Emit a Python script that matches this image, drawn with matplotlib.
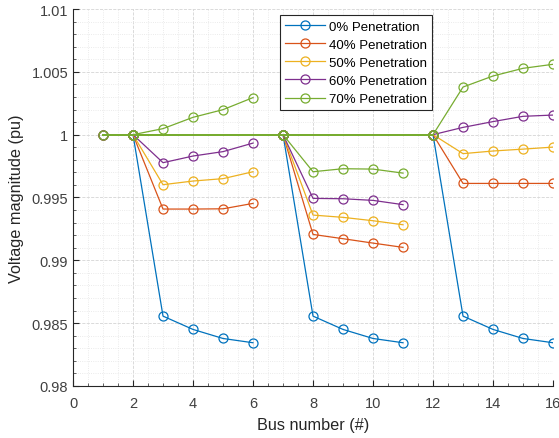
import numpy as np
import matplotlib.pyplot as plt
from matplotlib.ticker import MultipleLocator, FormatStrFormatter

plt.rcParams['font.family'] = ['Liberation Sans', 'DejaVu Sans']

# feeder branches (bus numbers), each drawn as its own polyline
branches = [[1, 2], [2, 3, 4, 5, 6], [2, 7], [7, 8, 9, 10, 11], [7, 12], [12, 13, 14, 15, 16]]

labels = ["0% Penetration", "40% Penetration", "50% Penetration",
          "60% Penetration", "70% Penetration"]
colors = ["#0072BD", "#D95319", "#EDB120", "#7E2F8E", "#77AC30"]

# voltage at bus 1..16 for each penetration level
v0 = [1.0, 1.0, 0.98556, 0.98450, 0.98378, 0.98344, 1.0,
      0.98556, 0.98450, 0.98378, 0.98344, 1.0,
      0.98556, 0.98450, 0.98378, 0.98344]
v40 = [1.0, 1.0, 0.99408, 0.99408, 0.99410, 0.99453, 1.0,
       0.99206, 0.99172, 0.99137, 0.99103, 1.0,
       0.99612, 0.99612, 0.99612, 0.99612]
v50 = [1.0, 1.0, 0.99602, 0.99631, 0.99650, 0.99705, 1.0,
       0.99360, 0.99342, 0.99315, 0.99283, 1.0,
       0.99849, 0.99870, 0.99885, 0.99901]
v60 = [1.0, 1.0, 0.99777, 0.99830, 0.99865, 0.99933, 1.0,
       0.99493, 0.99490, 0.99477, 0.99443, 1.0,
       1.00058, 1.00104, 1.00146, 1.00156]
v70 = [1.0, 1.0, 1.00048, 1.00138, 1.00199, 1.00295, 1.0,
       0.99705, 0.99729, 0.99726, 0.99694, 1.0,
       1.00379, 1.00467, 1.00528, 1.00560]
series = [v0, v40, v50, v60, v70]

fig = plt.figure(figsize=(5.59, 4.39), dpi=100)
ax = fig.add_axes([0.1306, 0.1185, 0.8587, 0.8587])

for n, (vals, lab, col) in enumerate(zip(series, labels, colors)):
    v = np.array(vals)
    for k, br in enumerate(branches):
        idx = np.array(br) - 1
        # flat links (1-2, 2-7, 7-12) overlap exactly: no antialiasing so the last colour wins
        flat = len(br) == 2
        ax.plot(br, v[idx], "-", color=col, lw=1.2 if flat else 0.9,
                antialiased=not flat, zorder=3 + n)
        ax.plot(br, v[idx], "o", color=col, mfc="none", ms=6.5, mew=0.9,
                zorder=3 + n)
    ax.plot([], [], "-o", color=col, mfc="none", ms=6.5, lw=0.9, mew=0.9, label=lab)

ax.set_xlim(0, 16)
ax.set_ylim(0.98, 1.01)
ax.xaxis.set_major_locator(MultipleLocator(2))
ax.xaxis.set_minor_locator(MultipleLocator(0.5))
ax.yaxis.set_major_locator(MultipleLocator(0.005))
ax.yaxis.set_minor_locator(MultipleLocator(0.001))
ax.yaxis.set_major_formatter(FormatStrFormatter("%g"))

ax.grid(which="major", color="#d4d4d4", linestyle="--", linewidth=0.6)
ax.grid(which="minor", color="#e4e4e4", linestyle=":", linewidth=0.6)
ax.set_axisbelow(True)

for s in ["top", "right"]:
    ax.spines[s].set_visible(False)
for s in ["left", "bottom"]:
    ax.spines[s].set_color("#262626")
    ax.spines[s].set_linewidth(0.8)
ax.tick_params(which="both", direction="in", colors="#262626", labelcolor="#404040",
               labelsize=10.5)
ax.tick_params(axis="x", which="major", pad=7)
ax.tick_params(which="minor", length=2, width=0.5)
ax.tick_params(which="major", length=4)

ax.set_xlabel("Bus number (#)", fontsize=11.7, color="#262626", labelpad=5)
ax.set_ylabel("Voltage magnitude (pu)", fontsize=11.7, color="#262626", labelpad=5)

leg = ax.legend(loc="upper left", bbox_to_anchor=(0.4175, 1.0016), fontsize=9.5,
                fancybox=False, framealpha=1, edgecolor="#262626",
                handlelength=3.0, borderpad=0.4, labelspacing=0.45,
                handletextpad=0.3)
leg.get_frame().set_linewidth(0.8)

fig.savefig("out.png", dpi=100)
